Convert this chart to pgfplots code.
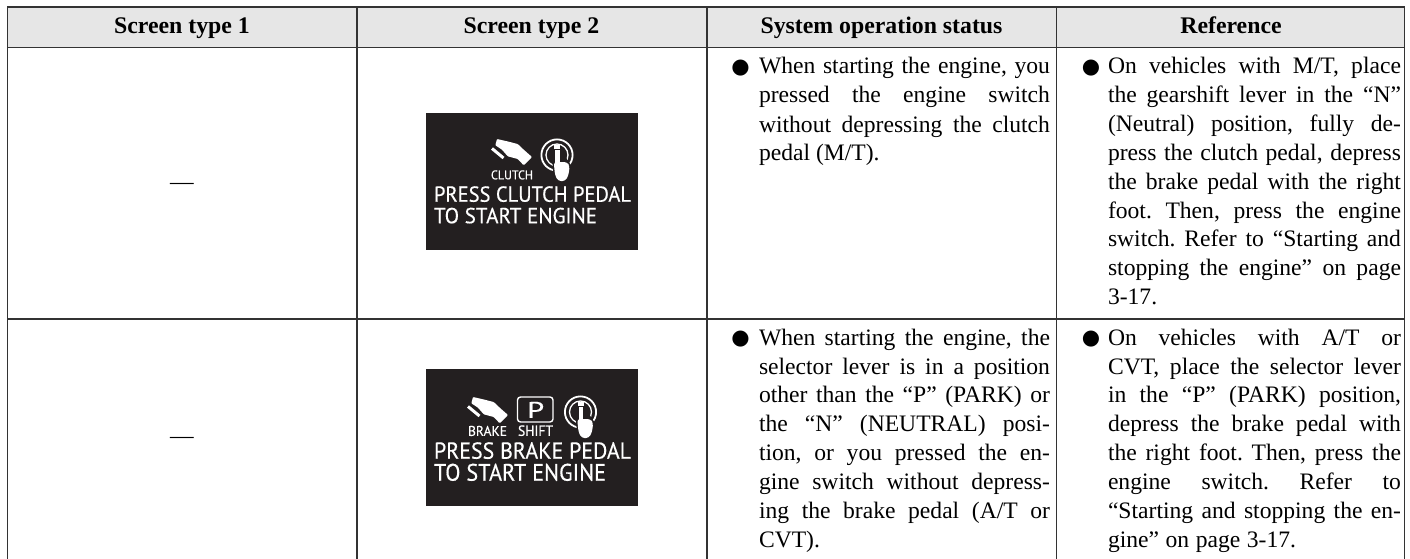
\documentclass[border=0pt]{standalone}
\usepackage{fontspec}
\usepackage{graphicx}
\usepackage{pgfplots}
\pgfplotsset{compat=1.18}
\setmainfont{Liberation Serif}
\newfontfamily\bulletfont{DejaVu Sans}
\newfontfamily\screenfont[FakeBold=0.45]{PT Sans}
\definecolor{headgray}{HTML}{E6E6E6}
\definecolor{rulegray}{HTML}{333333}
\definecolor{screenblack}{HTML}{231F20}
\newcommand\bodyfont{\fontsize{23.6}{28}\selectfont\frenchspacing\spaceskip=.25em plus 1fil minus .2em\relax}
\newcommand\headfont{\bfseries\fontsize{23.8}{28}\selectfont}
% a justified line, a last line, a bullet
\newcommand\jl[4]{\node[anchor=base west,inner sep=0pt,outer sep=0pt] at (axis cs:#1,#2) {\bodyfont\hbox to #3pt{#4}};}
\newcommand\lastl[3]{\node[anchor=base west,inner sep=0pt,outer sep=0pt] at (axis cs:#1,#2) {\bodyfont #3};}
\newcommand\bul[2]{\node[anchor=center,inner sep=0pt,outer sep=0pt] at (axis cs:#1,#2) {\bulletfont\fontsize{21}{21}\selectfont ●};}
\newcommand\fitt[5]{\node[anchor=south west,inner sep=0pt,outer sep=0pt,text=white] at (axis cs:#1,#2) {\resizebox{#3pt}{#4pt}{\screenfont #5}};}
\newcommand\hand[2]{%
  \fill[white,rounded corners=0.8pt] (#1+6,#2+1) -- (#1+16,#2+3.3) -- (#1+26.7,#2+6) -- (#1+32.7,#2+11.7) -- (#1+41,#2+19) -- (#1+32.7,#2+27.3) -- (#1+26.7,#2+21) -- (#1+16.7,#2+18.3) -- (#1+11,#2+11.7) -- (#1+4.3,#2+7.3) -- cycle;
  \draw[white,line width=3pt] (#1+1,#2+10.5) -- (#1+12.5,#2+20);
}
\newcommand\power[2]{%
  \draw[white,line width=1.8pt] (#1,#2) circle[radius=15.6pt];
  \draw[white,line width=1.3pt] (#1,#2) circle[radius=11pt];
  \fill[white] (#1-3,#2-10) rectangle (#1+3,#2-5.7);
  \fill[screenblack] (#1-3.7,#2-5.5) rectangle (#1+4.7,#2+8);
  \draw[screenblack,line width=3pt,rounded corners=3pt] (#1-3.3,#2+7) -- (#1+10,#2+7) -- (#1+12.7,#2+11) -- (#1+11.5,#2+20) -- (#1+8.5,#2+26) -- (#1+1,#2+26) -- (#1-2,#2+20) -- cycle;
  \fill[white,rounded corners=3pt] (#1-3.3,#2+7) -- (#1+10,#2+7) -- (#1+12.7,#2+11) -- (#1+11.5,#2+20) -- (#1+8.5,#2+26) -- (#1+1,#2+26) -- (#1-2,#2+20) -- cycle;
  \fill[white] (#1-1.7,#2-5) rectangle (#1+2.7,#2+12);
}
\begin{document}
\begin{tikzpicture}
\useasboundingbox (0,0) rectangle (1410pt,559pt);
\begin{axis}[at={(0,0)},anchor=south west,scale only axis,width=1410pt,height=559pt,
  xmin=0,xmax=1410,ymin=0,ymax=559,y dir=reverse,hide axis,clip=true]
% header band
\addplot[fill=headgray,draw=none] coordinates {(7,7) (1405,7) (1405,47) (7,47)} --cycle;
% screens
\addplot[fill=screenblack,draw=none] coordinates {(426,113) (638,113) (638,250) (426,250)} --cycle;
\addplot[fill=screenblack,draw=none] coordinates {(426,369) (638,369) (638,505.5) (426,505.5)} --cycle;
% rules
\addplot[rulegray,line width=1.7pt] coordinates {(7,7) (1405,7)};
\addplot[rulegray,line width=1.7pt] coordinates {(7,47.5) (1405,47.5)};
\addplot[rulegray,line width=1.7pt] coordinates {(7,319) (1405,319)};
\addplot[rulegray,line width=1.7pt] coordinates {(7.5,7) (7.5,559)};
\addplot[rulegray,line width=1.7pt] coordinates {(357,7) (357,559)};
\addplot[rulegray,line width=1.7pt] coordinates {(707,7) (707,559)};
\addplot[rulegray,line width=1.7pt] coordinates {(1056.5,7) (1056.5,559)};
\addplot[rulegray,line width=1.7pt] coordinates {(1404.5,7) (1404.5,559)};
% header
\node[anchor=base,inner sep=0pt] at (axis cs:182,33.5) {\headfont Screen type 1};
\node[anchor=base,inner sep=0pt] at (axis cs:531.5,33.5) {\headfont Screen type 2};
\node[anchor=base,inner sep=0pt] at (axis cs:881.5,33.5) {\headfont System operation status};
\node[anchor=base,inner sep=0pt] at (axis cs:1231,33.5) {\headfont Reference};
% dashes
\node[anchor=base,inner sep=0pt] at (axis cs:182,189) {\bodyfont ---};
\node[anchor=base,inner sep=0pt] at (axis cs:182,443) {\bodyfont ---};
% row 1 status
\bul{740.5}{68}
\jl{759}{74}{291}{When starting the engine, you}
\jl{759}{103}{291}{pressed the engine switch}
\jl{759}{132}{291}{without depressing the clutch}
\lastl{759}{160.5}{pedal (M/T).}
% row 1 reference
\bul{1091}{68}
\jl{1108}{74}{293}{On vehicles with M/T, place}
\jl{1108}{103}{293}{the gearshift lever in the “N”}
\jl{1108}{131.5}{293}{(Neutral) position, fully de-}
\jl{1108}{160.5}{293}{press the clutch pedal, depress}
\jl{1108}{189}{293}{the brake pedal with the right}
\jl{1108}{218}{293}{foot. Then, press the engine}
\jl{1108}{246.5}{293}{switch. Refer to “Starting and}
\jl{1108}{275.5}{293}{stopping the engine” on page}
\lastl{1108}{304}{3-17.}
% row 2 status
\bul{740.5}{339}
\jl{759}{345}{291}{When starting the engine, the}
\jl{759}{374}{291}{selector lever is in a position}
\jl{759}{402.5}{291}{other than the “P” (PARK) or}
\jl{759}{431.5}{291}{the “N” (NEUTRAL) posi-}
\jl{759}{460.5}{291}{tion, or you pressed the en-}
\jl{759}{489.5}{291}{gine switch without depress-}
\jl{759}{518}{291}{ing the brake pedal (A/T or}
\lastl{759}{547}{CVT).}
% row 2 reference
\bul{1091}{339}
\jl{1108}{345}{293}{On vehicles with A/T or}
\jl{1108}{374}{293}{CVT, place the selector lever}
\jl{1108}{402.5}{293}{in the “P” (PARK) position,}
\jl{1108}{431.5}{293}{depress the brake pedal with}
\jl{1108}{460.5}{293}{the right foot. Then, press the}
\jl{1108}{489.5}{293}{engine switch. Refer to}
\jl{1108}{518}{293}{“Starting and stopping the en-}
\jl{1108}{547}{188}{gine” on page 3-17.}
% screen 1
\hand{491}{138}
\power{557}{155}
\fitt{491}{179.5}{42}{9}{CLUTCH}
\fitt{434}{202}{197}{15.5}{PRESS CLUTCH PEDAL}
\fitt{434}{223.5}{163}{15.5}{TO START ENGINE}
% screen 2
\hand{467}{396}
\draw[white,line width=1.4pt,rounded corners=3pt] (517.5,397) rectangle (553,422);
\node[anchor=south west,inner sep=0pt,text=white] at (axis cs:527,418) {\resizebox{17pt}{16pt}{\screenfont P}};
\power{580.5}{412}
\fitt{468}{436}{39}{10}{BRAKE}
\fitt{518}{436}{35}{10.5}{SHIFT}
\fitt{434}{459}{197}{16.5}{PRESS BRAKE PEDAL}
\fitt{434}{481}{172}{17}{TO START ENGINE}
\end{axis}
\end{tikzpicture}
\end{document}
